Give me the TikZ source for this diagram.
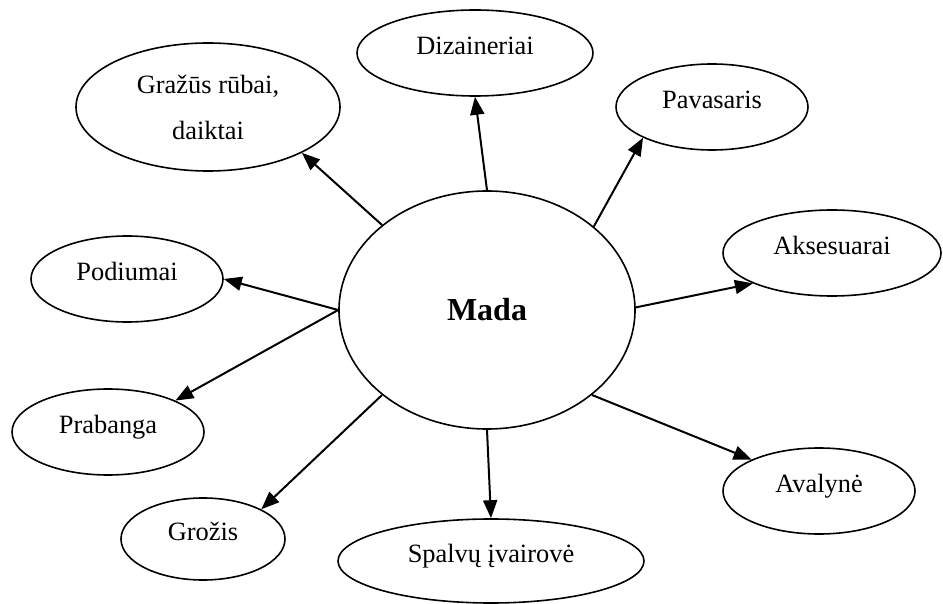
\documentclass[tikz,border=0pt]{standalone}
\usepackage{fontspec}
\setmainfont{Liberation Serif}
\usepackage{tikz}
\usetikzlibrary{arrows.meta, positioning, shapes.geometric}

\begin{document}
\begin{tikzpicture}[x=0.5pt, y=-0.5pt,
    bubble/.style={ellipse, draw, line width=0.8pt, inner sep=0pt, font=\fontsize{13.2}{23}\selectfont},
    word/.style={bubble, text height=0.7em, text depth=0.58em},
    size/.style 2 args={minimum width=#1pt, minimum height=#2pt},
    link/.style={->, >={Triangle[length=9pt, width=7pt]}, line width=1pt},
    auto
]
\useasboundingbox (0,0) rectangle (943,604);

% Centre and the ideas round it
\node[bubble, size={148}{119}, font=\fontsize{16}{19}\selectfont\bfseries] (mada) at (487,310) {Mada};
\node[word, size={118}{43}] (dizaineriai) at (475,53) {Dizaineriai};
\node[bubble, size={132}{64}, align=center] (grazus) at (208,107) {Gražūs rūbai,\\daiktai};
\node[word, size={96}{43}] (pavasaris) at (712,107) {Pavasaris};
\node[word, size={109}{43}] (aksesuarai) at (832,253) {Aksesuarai};
\node[word, size={96}{43}] (podiumai) at (127,279) {Podiumai};
\node[word, size={96}{43}] (prabanga) at (108,432) {Prabanga};
\node[word, size={82}{41}] (grozis) at (203,539) {Grožis};
\node[word, size={153}{42}] (spalvos) at (491,561) {Spalvų įvairovė};
\node[word, size={96}{43}] (avalyne) at (819,491) {Avalynė};

% Arrows out of the centre
\path[link]
    (mada.141) edge (grazus.-26)
    (mada.90) edge (dizaineriai.270)
    (mada.38) edge (pavasaris.204)
    (mada.1) edge (aksesuarai.201)
    (mada.180) edge (podiumai.0)
    (mada.180) edge (prabanga.25)
    (mada.219) edge (grozis.27)
    (mada.270) edge (spalvos.90)
    (mada.321) edge (avalyne.155);

\end{tikzpicture}
\end{document}
